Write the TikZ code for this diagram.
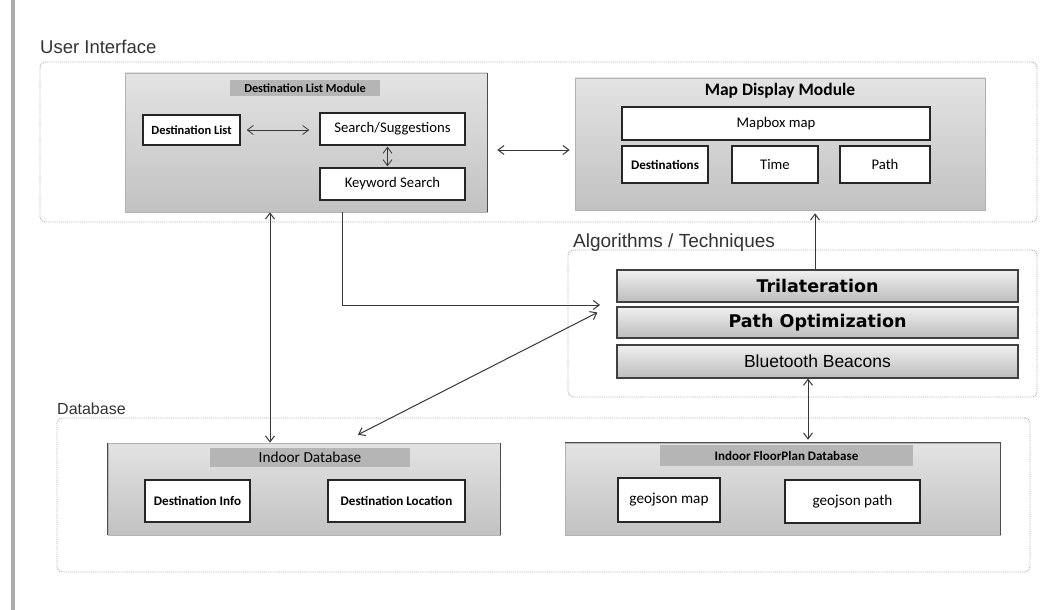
\documentclass[tikz,border=0pt]{standalone}
\usepackage{fontspec}
\setmainfont{Carlito}
\newfontfamily\arialf{Liberation Sans}
\newfontfamily\verdf{DejaVu Sans}
\usetikzlibrary{arrows.meta}
\tikzset{
  x=1pt, y=-1pt,
  group/.style={draw=gray!65, densely dotted, line width=0.9pt, rounded corners=5pt, minimum width=#1},
  glabel/.style={anchor=base west, inner sep=0pt, font=\arialf\fontsize{18.5}{20}\selectfont, text=black!80},
  module/.style={top color=gray!22, bottom color=gray!48, draw=gray!60, line width=0.6pt, inner sep=0pt},
  tbar/.style={fill=gray!58, inner sep=0pt, font=\bfseries\fontsize{12.3}{14}\selectfont},
  leaf/.style={draw=black!85, line width=1.4pt, fill=white, inner sep=0pt, font=\fontsize{14.7}{16}\selectfont},
  bleaf/.style={leaf, font=\bfseries\fontsize{13.1}{15}\selectfont},
  alg/.style={draw=black!75, line width=1.1pt, top color=gray!12, bottom color=gray!52, inner sep=0pt,
     minimum width=401pt},
  arr/.style={-{Straight Barb[length=6pt,width=9pt]}, draw=black!78, line width=1pt},
  darr/.style={{Straight Barb[length=6pt,width=9pt]}-{Straight Barb[length=6pt,width=9pt]}, draw=black!78, line width=1pt},
}
\begin{document}
\begin{tikzpicture}
\useasboundingbox (0,0) rectangle (1060,610);
\fill[white] (0,0) rectangle (1060,610);
% left bar
\fill[gray!65] (11,0) rectangle (15,610);

% ---------------- User Interface ----------------
\node[group=997pt, minimum height=160pt] (ui) at (538.5,142) {};
\node[glabel] (uil) at (40,54) {User Interface};

\node[module, minimum width=362pt, minimum height=139pt] (dlm) at (306,142.5) {};
\draw[gray!60!black, line width=1.2pt] (dlm.north east) -- (dlm.south east);
\node[tbar, minimum width=150pt, minimum height=16pt] (dlmt) at (305,88) {Destination List Module};
\node[bleaf, minimum width=97pt, minimum height=30pt, font=\bfseries\fontsize{12.5}{14}\selectfont] (dl) at (191.5,130) {Destination List};
\node[leaf, minimum width=145pt, minimum height=32pt] (ss) at (392.5,129) {Search/Suggestions};
\node[leaf, minimum width=145pt, minimum height=32pt] (ks) at (392.5,184) {Keyword Search};

\node[module, minimum width=410pt, minimum height=132pt] (mdm) at (780,144) {};
\node[inner sep=0pt, font=\bfseries\fontsize{17.5}{19}\selectfont] (mdmt) at (780,91) {Map Display Module};
\node[leaf, minimum width=308pt, minimum height=33pt] (mb) at (776,123.5) {Mapbox map};
\node[bleaf, minimum width=86pt, minimum height=37pt] (dst) at (665,164.5) {Destinations};
\node[leaf, minimum width=86pt, minimum height=37pt] (tm) at (775,164.5) {Time};
\node[leaf, minimum width=90pt, minimum height=37pt] (pth) at (885,164.5) {Path};

% ---------------- Algorithms ----------------
\node[group=469pt, minimum height=147pt] (ag) at (802.5,323.5) {};
\node[glabel, font=\arialf\fontsize{19}{21}\selectfont] (agl) at (573,247) {Algorithms / Techniques};
\node[alg, minimum height=32pt, font=\verdf\bfseries\fontsize{17.5}{19}\selectfont] (tri) at (817.5,286) {Trilateration};
\node[alg, minimum height=31pt, font=\verdf\bfseries\fontsize{17.5}{19}\selectfont] (po) at (817.5,322.5) {Path Optimization};
\node[alg, minimum height=33pt, font=\arialf\fontsize{17.5}{19}\selectfont] (bb) at (817.5,361.5) {Bluetooth Beacons};

% ---------------- Database ----------------
\node[group=973pt, minimum height=154pt] (db) at (543.5,495) {};
\node[glabel, font=\arialf\fontsize{16}{18}\selectfont] (dbl) at (57,414) {Database};

\node[module, minimum width=392pt, minimum height=92pt] (idb) at (304,489) {};
\draw[gray!60!black, line width=1.2pt] (idb.north west) -- (idb.south west)
      (idb.north east) -- (idb.south east);
\node[tbar, minimum width=200pt, minimum height=19pt, font=\fontsize{15.3}{17}\selectfont] (idbt) at (310,457.5) {Indoor Database};
\node[bleaf, minimum width=105pt, minimum height=42pt] (di) at (197.5,501) {Destination Info};
\node[bleaf, minimum width=137pt, minimum height=42pt] (dloc) at (396.5,501) {Destination Location};

\node[module, minimum width=435pt, minimum height=92pt] (fdb) at (782.5,489) {};
\draw[gray!60!black, line width=1.2pt] (fdb.north west) -- (fdb.north east) -- (fdb.south east);
\node[tbar, minimum width=253pt, minimum height=21pt, font=\bfseries\fontsize{13}{15}\selectfont] (fdbt) at (786.5,455.5) {Indoor FloorPlan Database};
\node[leaf, minimum width=102pt, minimum height=44pt, font=\fontsize{15.2}{17}\selectfont] (gm) at (669,500) {geojson map};
\node[leaf, minimum width=135pt, minimum height=43pt, font=\fontsize{15.2}{17}\selectfont] (gp) at (852.5,501.5) {geojson path};

% ---------------- connectors ----------------
\draw[darr, line width=0.8pt, shorten <=6pt, shorten >=10pt] (dl.east) -- (dl.east -| ss.west);
\draw[darr, line width=0.8pt, shorten <=1pt, shorten >=1pt] ([xshift=-5pt]ss.south) -- ([xshift=-5pt]ks.north);
\draw[darr, shorten <=10pt, shorten >=5pt] ([yshift=-7.5pt]dlm.east) -- ([yshift=-7.5pt]dlm.east -| mdm.west);
\draw[arr, shorten >=3pt] ([xshift=-2.5pt]tri.north) -- ([xshift=-2.5pt]tri.north |- mdm.south);
\coordinate (kin) at (600,305);
\draw[arr] ([xshift=36pt]dlm.south) |- (kin);
\draw[darr] ([xshift=-19pt,yshift=10pt]po.west) -- ([xshift=54pt,yshift=8pt]idb.north);
\draw[darr] ([xshift=-36pt]dlm.south) -- ([xshift=-36pt]dlm.south |- idb.north);
\draw[darr, shorten >=3pt] ([xshift=-9.5pt]bb.south) -- ([xshift=-9.5pt]bb.south |- fdb.north);
\end{tikzpicture}
\end{document}
